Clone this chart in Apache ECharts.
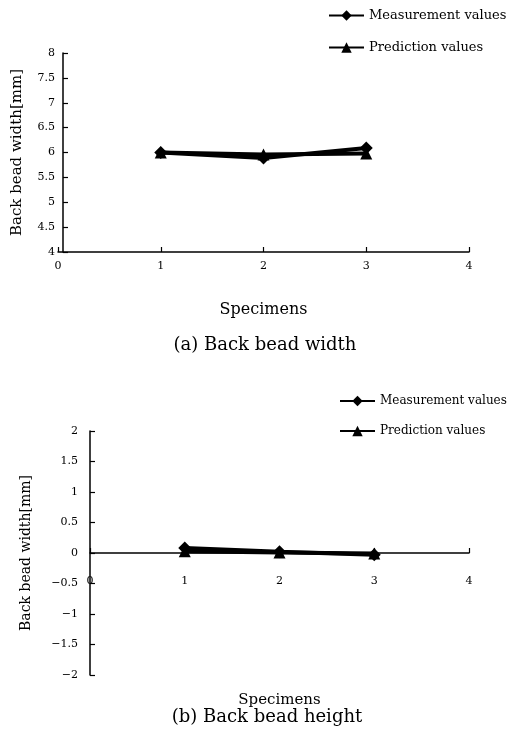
<!DOCTYPE html>
<html><head><meta charset="utf-8">
<script src="https://cdn.jsdelivr.net/npm/echarts@6/dist/echarts.min.js"></script>
<style>html,body{margin:0;padding:0;background:#fff}#c{width:509px;height:736px}</style>
</head><body><div id="c"></div>
<script>
// Data
const specimens = [1, 2, 3];
const widthMeasured = [6.0, 5.89, 6.09];
const widthPredicted = [6.0, 5.96, 5.98];
const heightMeasured = [0.08, 0.02, -0.03];
const heightPredicted = [0.03, 0.01, -0.01];
const seriesNames = ['Measurement values', 'Prediction values'];
const xTicks = [0, 1, 2, 3, 4];
const widthTicks = [4, 4.5, 5, 5.5, 6, 6.5, 7, 7.5, 8];
const heightTicks = [-2, -1.5, -1, -0.5, 0, 0.5, 1, 1.5, 2];
const yName = 'Back bead width[mm]';
const xName = 'Specimens';
const captions = ['(a) Back bead width', '(b) Back bead height'];

const FONT = 'DejaVu Serif';
const pair = (xs, ys) => xs.map((x, i) => [x, ys[i]]);

function lineSeries(name, data, symbol, size, gi) {
  return {
    name, type: 'line', xAxisIndex: gi, yAxisIndex: gi, data,
    symbol, symbolSize: size, showSymbol: true,
    lineStyle: { color: '#000', width: 4 },
    itemStyle: { color: '#000' },
    z: 3
  };
}

const axisCommon = {
  axisLine: { show: true, lineStyle: { color: '#000', width: 1.5 } },
  axisTick: { show: true, inside: true, length: 5, lineStyle: { color: '#000', width: 1.2 } },
  splitLine: { show: false },
  axisLabel: { color: '#000', fontFamily: FONT, fontSize: 11 }
};

const option = {
  animation: false,
  backgroundColor: '#fff',
  title: [
    { text: captions[0], left: 260, top: 331, textAlign: 'center',
      textStyle: { fontFamily: FONT, fontSize: 18, fontWeight: 'normal', color: '#000' } },
    { text: captions[1], left: 262, top: 703, textAlign: 'center',
      textStyle: { fontFamily: FONT, fontSize: 18, fontWeight: 'normal', color: '#000' } }
  ],
  legend: [
    { data: seriesNames, orient: 'vertical', left: 328, top: 9, itemWidth: 35, itemHeight: 13, itemGap: 19,
      textStyle: { fontFamily: FONT, fontSize: 13, color: '#000' }, padding: 0 },
    { data: seriesNames, orient: 'vertical', left: 339, top: 395, itemWidth: 35, itemHeight: 13, itemGap: 18,
      textStyle: { fontFamily: FONT, fontSize: 12, color: '#000' }, padding: 0 }
  ],
  grid: [
    { left: 58, width: 411, top: 53, height: 199, outerBoundsMode: 'none', containLabel: false },
    { left: 90, width: 379, top: 431, height: 244, outerBoundsMode: 'none', containLabel: false }
  ],
  xAxis: [
    Object.assign({}, axisCommon, {
      type: 'value', gridIndex: 0, min: xTicks[0], max: xTicks[xTicks.length - 1], interval: 1,
      name: xName, nameLocation: 'middle', nameGap: 50,
      nameTextStyle: { fontFamily: FONT, fontSize: 16, color: '#000' },
      axisLabel: Object.assign({}, axisCommon.axisLabel, { margin: 9 })
    }),
    Object.assign({}, axisCommon, {
      type: 'value', gridIndex: 1, min: xTicks[0], max: xTicks[xTicks.length - 1], interval: 1,
      offset: -122,
      name: xName, nameLocation: 'middle', nameGap: 140,
      nameTextStyle: { fontFamily: FONT, fontSize: 15, color: '#000' },
      axisLine: { show: true, onZero: false, lineStyle: { color: '#000', width: 1.5 } },
      axisLabel: Object.assign({}, axisCommon.axisLabel, { margin: 23 })
    })
  ],
  yAxis: [
    Object.assign({}, axisCommon, {
      type: 'value', gridIndex: 0, min: widthTicks[0], max: widthTicks[widthTicks.length - 1], interval: 0.5,
      offset: -5,
      name: yName, nameLocation: 'middle', nameRotate: 90, nameGap: 38,
      nameTextStyle: { fontFamily: FONT, fontSize: 15, color: '#000' },
      axisLabel: Object.assign({}, axisCommon.axisLabel, { margin: 8 })
    }),
    Object.assign({}, axisCommon, {
      type: 'value', gridIndex: 1, min: heightTicks[0], max: heightTicks[heightTicks.length - 1], interval: 0.5,
      name: yName, nameLocation: 'middle', nameRotate: 90, nameGap: 57,
      nameTextStyle: { fontFamily: FONT, fontSize: 14, color: '#000' },
      axisLabel: Object.assign({}, axisCommon.axisLabel, {
        margin: 12, formatter: v => String(v).replace('-', '\u2212')
      })
    })
  ],
  series: [
    lineSeries(seriesNames[0], pair(specimens, widthMeasured), 'diamond', 13, 0),
    lineSeries(seriesNames[1], pair(specimens, widthPredicted), 'triangle', 12, 0),
    lineSeries(seriesNames[0], pair(specimens, heightMeasured), 'diamond', 13, 1),
    lineSeries(seriesNames[1], pair(specimens, heightPredicted), 'triangle', 12, 1)
  ]
};
echarts.init(document.getElementById('c'), null, { renderer: 'canvas' }).setOption(option);
</script></body></html>
